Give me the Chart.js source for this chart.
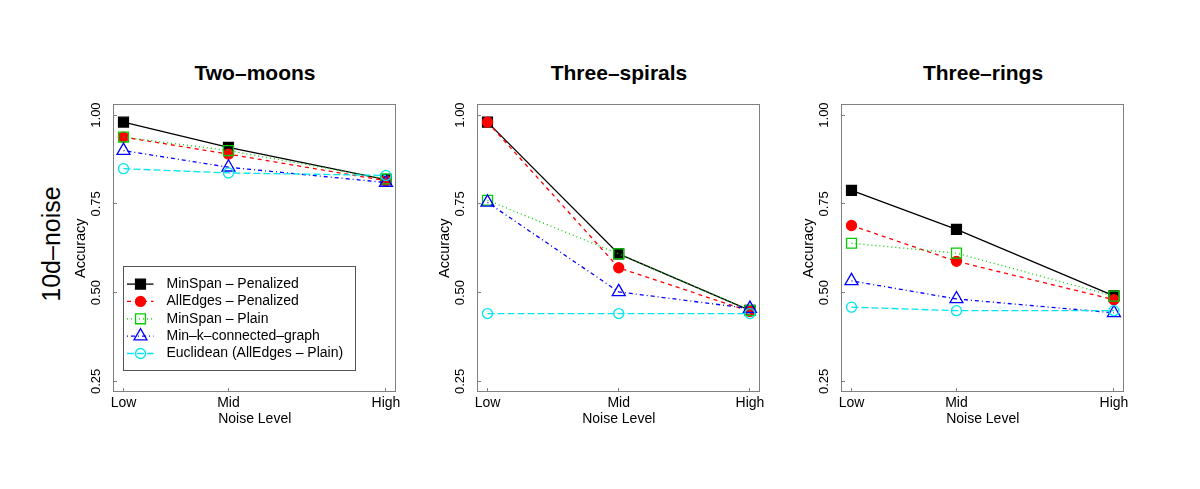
<!DOCTYPE html>
<html>
<head>
<meta charset="utf-8">
<script src="https://cdn.jsdelivr.net/npm/chart.js@4.4.1/dist/chart.umd.min.js"></script>
<style>
  body { margin: 0; background: #fff; width: 1200px; height: 489px; position: relative; overflow: hidden;
         font-family: "Liberation Sans", Arial, Helvetica, sans-serif; }
  canvas { position: absolute; top: 89px; }
  .title { position: absolute; top: 61px; width: 284px; text-align: center; font-weight: bold;
           font-size: 21px; line-height: 24px; color: #000; }
  #rowLabel { position: absolute; left: 51px; top: 244px; font-size: 25px; white-space: nowrap;
              transform: translate(-50%, -50%) rotate(-90deg); }
</style>
</head>
<body>
<div id="rowLabel">10d–noise</div>
<div class="title" style="left:113px">Two–moons</div>
<div class="title" style="left:477px">Three–spirals</div>
<div class="title" style="left:841px">Three–rings</div>
<canvas id="moons" width="354" height="351" style="left:53px"></canvas>
<canvas id="spirals" width="354" height="351" style="left:417px"></canvas>
<canvas id="rings" width="354" height="351" style="left:781px"></canvas>
<script>
const noiseLabels = ["Low", "Mid", "High"];
const xPosWide = [1, 3, 6];   // Two-moons, Three-rings
const xPosEven = [1, 2, 3];   // Three-spirals
const seriesNames = ["MinSpan – Penalized", "AllEdges – Penalized", "MinSpan – Plain",
                     "Min–k–connected–graph", "Euclidean (AllEdges – Plain)"];
const yTicks = [0.25, 0.5, 0.75, 1.0];
const yTickLabels = ["0.25", "0.50", "0.75", "1.00"];

// Two-moons
const moonsMinSpanPen   = [0.980, 0.909, 0.818];
const moonsAllEdgesPen  = [0.938, 0.890, 0.815];
const moonsMinSpanPlain = [0.938, 0.900, 0.820];
const moonsMinK         = [0.900, 0.853, 0.810];
const moonsEuclid       = [0.849, 0.837, 0.830];
// Three-spirals
const spiralsMinSpanPen   = [0.980, 0.609, 0.450];
const spiralsAllEdgesPen  = [0.980, 0.570, 0.447];
const spiralsMinSpanPlain = [0.760, 0.609, 0.450];
const spiralsMinK         = [0.754, 0.502, 0.455];
const spiralsEuclid       = [0.441, 0.441, 0.441];
// Three-rings
const ringsMinSpanPen   = [0.788, 0.678, 0.491];
const ringsAllEdgesPen  = [0.689, 0.588, 0.480];
const ringsMinSpanPlain = [0.639, 0.611, 0.490];
const ringsMinK         = [0.533, 0.482, 0.443];
const ringsEuclid       = [0.459, 0.449, 0.449];

const family = "'Liberation Sans', Arial, Helvetica, sans-serif";
const lineColors = ["#000000", "#ff0000", "#00cd00", "#0000ff", "#00e5ee"];
const lineDashes = [[], [4, 4], [1, 3], [1, 3, 4, 3], [7, 3]];
const pointStyles = ["rect", "circle", "rect", "triangle", "circle"];
const pointFilled = [true, true, false, false, false];
const pointRadii = [7, 5, 7, 7.5, 5];

function makeDatasets(xs, rows) {
  return rows.map((vals, i) => ({
    label: seriesNames[i],
    data: vals.map((v, k) => ({ x: xs[k], y: v })),
    borderColor: lineColors[i],
    borderWidth: 1.3,
    borderDash: lineDashes[i],
    pointStyle: pointStyles[i],
    pointRadius: pointRadii[i],
    pointBackgroundColor: pointFilled[i] ? lineColors[i] : "rgba(0,0,0,0)",
    pointBorderColor: lineColors[i],
    pointBorderWidth: 1.3,
    order: rows.length - i,
    tension: 0,
    fill: false
  }));
}

// grey frame round the plot region
const boxPlugin = {
  id: "box",
  afterDraw(chart) {
    const { ctx, chartArea: a } = chart;
    ctx.save();
    ctx.strokeStyle = "#808080";
    ctx.lineWidth = 1;
    ctx.strokeRect(Math.round(a.left) + 0.5, Math.round(a.top) + 0.5,
                   Math.round(a.right - a.left) - 1, Math.round(a.bottom - a.top) - 1);
    ctx.restore();
  }
};

// legend sitting inside the first panel
const legendPlugin = {
  id: "insideLegend",
  afterDraw(chart) {
    const { ctx, chartArea } = chart;
    const x0 = Math.round(chartArea.left) + 10.5, y0 = Math.round(chartArea.top) + 162.5;
    ctx.save();
    ctx.fillStyle = "#fff";
    ctx.fillRect(x0, y0, 232, 104);
    ctx.strokeStyle = "#555";
    ctx.lineWidth = 1;
    ctx.strokeRect(x0, y0, 232, 104);
    ctx.font = "14px " + family;
    ctx.textBaseline = "middle";
    chart.data.datasets.forEach((ds, i) => {
      const y = y0 + 17.6 + i * 17.35;
      ctx.setLineDash(ds.borderDash);
      ctx.strokeStyle = ds.borderColor;
      ctx.lineWidth = ds.borderWidth;
      ctx.beginPath();
      ctx.moveTo(x0 + 3.5, y);
      ctx.lineTo(x0 + 30, y);
      ctx.stroke();
      ctx.setLineDash([]);
      ctx.fillStyle = ds.pointBackgroundColor;
      ctx.strokeStyle = ds.pointBorderColor;
      ctx.lineWidth = ds.pointBorderWidth;
      Chart.helpers.drawPoint(ctx, { pointStyle: ds.pointStyle, radius: ds.pointRadius, rotation: 0,
                                     borderWidth: ds.pointBorderWidth }, x0 + 17, y);
      ctx.fillStyle = "#000";
      ctx.fillText(ds.label, x0 + 43, y);
    });
    ctx.restore();
  }
};

function makeOptions(xs) {
  const span = xs[xs.length - 1] - xs[0];
  const tickGrid = { display: true, drawOnChartArea: false, drawTicks: true, tickLength: -4,
                     tickColor: "#808080", tickWidth: 1 };
  return {
    responsive: false,
    animation: false,
    layout: { padding: { top: 10, right: 10, left: 0, bottom: 0 } },
    plugins: { legend: { display: false }, tooltip: { enabled: false } },
    scales: {
      x: {
        type: "linear",
        min: xs[0] - 0.04 * span,
        max: xs[xs.length - 1] + 0.04 * span,
        afterBuildTicks: s => { s.ticks = xs.map(v => ({ value: v })); },
        afterFit: s => { s.height = 48; },
        ticks: { autoSkip: false, maxRotation: 0, padding: 6.3, color: "#000",
                 font: { size: 14, family }, callback: (v, i) => noiseLabels[i] },
        grid: tickGrid,
        border: { display: false },
        title: { display: true, text: "Noise Level", color: "#000",
                 font: { size: 14, family }, padding: { top: 0, bottom: 12.6 } }
      },
      y: {
        type: "linear",
        min: 0.22,
        max: 1.03,
        afterBuildTicks: s => { s.ticks = yTicks.map(v => ({ value: v })); },
        afterFit: s => { s.width = 60; },
        ticks: { autoSkip: false, minRotation: 90, maxRotation: 90, crossAlign: "center",
                 padding: 7.6, color: "#000", font: { size: 13, family },
                 callback: (v, i) => yTickLabels[i] },
        grid: tickGrid,
        border: { display: false },
        title: { display: true, text: "Accuracy", color: "#000",
                 font: { size: 14.5, family }, padding: { top: 19.3, bottom: 0 } }
      }
    }
  };
}

new Chart(document.getElementById("moons"), {
  type: "line",
  data: { datasets: makeDatasets(xPosWide, [moonsMinSpanPen, moonsAllEdgesPen, moonsMinSpanPlain, moonsMinK, moonsEuclid]) },
  options: makeOptions(xPosWide),
  plugins: [boxPlugin, legendPlugin]
});

new Chart(document.getElementById("spirals"), {
  type: "line",
  data: { datasets: makeDatasets(xPosEven, [spiralsMinSpanPen, spiralsAllEdgesPen, spiralsMinSpanPlain, spiralsMinK, spiralsEuclid]) },
  options: makeOptions(xPosEven),
  plugins: [boxPlugin]
});

new Chart(document.getElementById("rings"), {
  type: "line",
  data: { datasets: makeDatasets(xPosWide, [ringsMinSpanPen, ringsAllEdgesPen, ringsMinSpanPlain, ringsMinK, ringsEuclid]) },
  options: makeOptions(xPosWide),
  plugins: [boxPlugin]
});
</script>
</body>
</html>
